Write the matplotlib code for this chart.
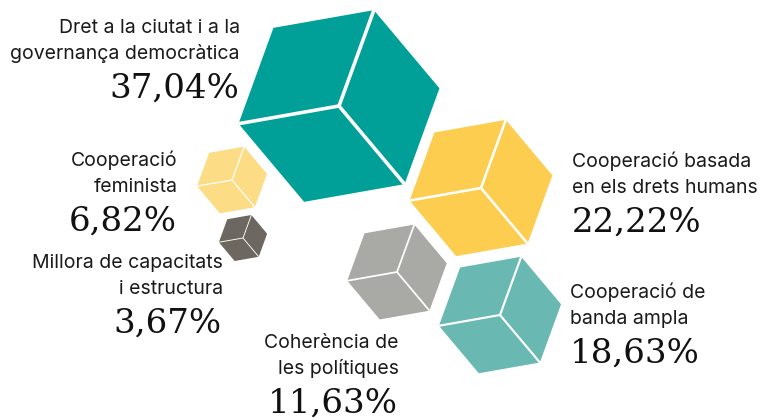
import numpy as np
import matplotlib
matplotlib.use("Agg")
import matplotlib.pyplot as plt
from matplotlib.patches import Polygon

# data
labels = [
    "Dret a la ciutat i a la\ngovernança democràtica",
    "Cooperació basada\nen els drets humans",
    "Cooperació de\nbanda ampla",
    "Coherència de\nles polítiques",
    "Cooperació\nfeminista",
    "Millora de capacitats\ni estructura",
]
shares = [37.04, 22.22, 18.63, 11.63, 6.82, 3.67]
colors = ["#009f98", "#fdcd4f", "#69b8b2", "#a9a9a5", "#fddc86", "#6c675f"]

# layout (pixels, y down): cube centre and radius, label anchor
cube_centers = [(339, 106), (481, 188), (500, 315), (397, 272), (232, 180), (243, 238)]
cube_radius = [102, 72.5, 62, 50.5, 35.5, 24.5]
label_pos = [(240, 33, "right"), (572, 167, "left"), (570, 298, "left"),
             (399, 348, "right"), (178, 166, "right"), (223, 268, "right")]

W, H = 768, 418
fig = plt.figure(figsize=(W / 100, H / 100), dpi=100)
ax = fig.add_axes([0, 0, 1, 1])
ax.set_xlim(0, W)
ax.set_ylim(H, 0)
ax.set_aspect("equal")
ax.axis("off")

rot = 10  # degrees, hexagon orientation
for (cx, cy), r, c in zip(cube_centers, cube_radius, colors):
    ang = np.radians(rot + 60 * np.arange(6))
    pts = np.column_stack([cx + r * np.cos(ang), cy - r * np.sin(ang)])
    ax.add_patch(Polygon(pts, closed=True, facecolor=c, edgecolor="none"))
    # the three inner edges of the cube
    lw = max(r * 0.035, 0.9) * 0.72
    for k in (1, 3, 5):
        ax.plot([cx, pts[k, 0]], [cy, pts[k, 1]], color="white", lw=lw,
                solid_capstyle="butt")

line_gap = 26
for lab, val, (x, y, ha) in zip(labels, shares, label_pos):
    for i, line in enumerate(lab.split("\n")):
        ax.text(x, y + i * line_gap, line, ha=ha, va="baseline",
                fontsize=14, family="Inter", color="#1a1a1a")
    pct = f"{val:.2f}%".replace(".", ",")
    ax.text(x - 1 if ha == "right" else x, y + 2 * line_gap + 13, pct, ha=ha,
            va="baseline", fontsize=24.5, family="DejaVu Serif", color="#111111")

fig.savefig("out.png", dpi=100)
